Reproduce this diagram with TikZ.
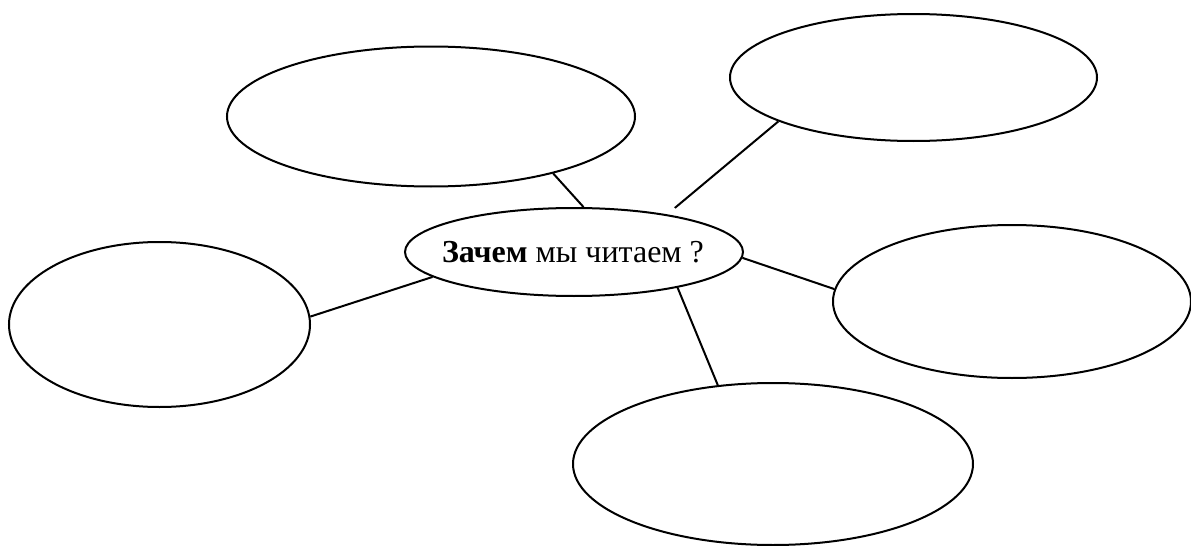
\documentclass[tikz,border=0pt]{standalone}
\usepackage{fontspec}
\setmainfont{Liberation Serif}
\usetikzlibrary{shapes.geometric}
\begin{document}
\begin{tikzpicture}[x=0.5pt,y=-0.5pt,
  bubble/.style={ellipse,draw,line width=1pt,inner sep=0pt},
  link/.style={line width=1pt},
  lbl/.style={font=\fontsize{16}{18}\selectfont,inner sep=0pt}]
\useasboundingbox (0,0) rectangle (1191,546);
\node[bubble,minimum width=204pt,minimum height=70pt] (tl) at (431,116.5) {};
\node[bubble,minimum width=183.5pt,minimum height=63.5pt] (tr) at (913.5,77.5) {};
\node[bubble,minimum width=169pt,minimum height=44pt] (c) at (574,252) {};
\node[bubble,minimum width=150.5pt,minimum height=82.5pt] (l) at (159.5,324.5) {};
\node[bubble,minimum width=179pt,minimum height=76.5pt] (r) at (1012,301.5) {};
\node[bubble,minimum width=200pt,minimum height=81pt] (b) at (773,464) {};
\node[lbl] (ct) at (573,252) {\textbf{Зачем} мы читаем ?};
\draw[link] (tl.-25) -- (c.78);
\draw[link,shorten <=5pt] (c.22.5) -- (tr.-162.5);
\draw[link] (c.-2.5) -- (r.176);
\draw[link] (c.-19.3) -- (b.125);
\draw[link] (l.3) -- (c.190);
\end{tikzpicture}
\end{document}
